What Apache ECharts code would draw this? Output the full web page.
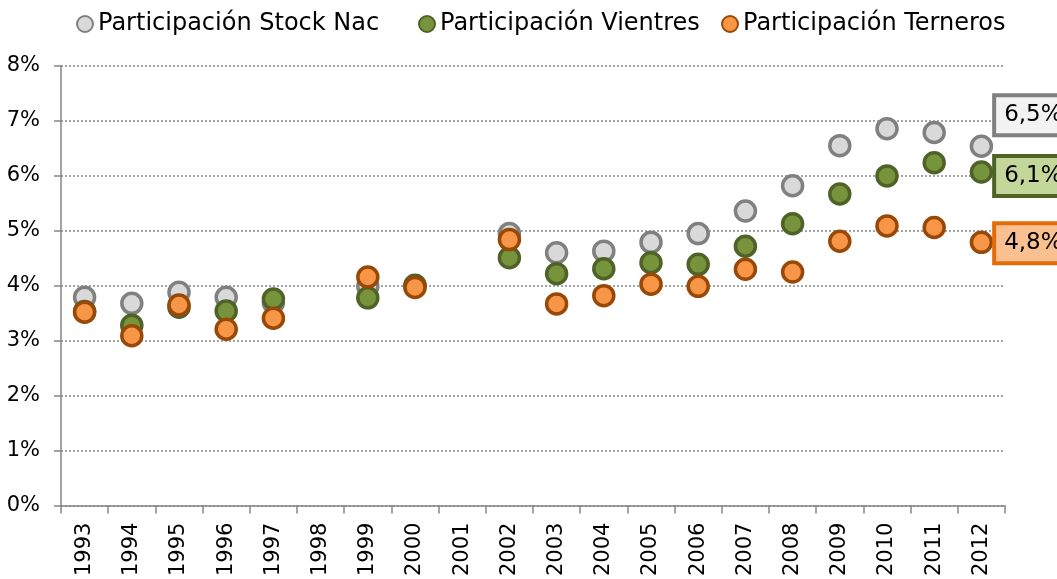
<!DOCTYPE html>
<html><head><meta charset="utf-8">
<script src="https://cdn.jsdelivr.net/npm/echarts@6/dist/echarts.min.js"></script>
<style>html,body{margin:0;padding:0;background:#fff}#c{width:1057px;height:579px}</style>
</head><body><div id="c"></div>
<script>
var years = ['1993','1994','1995','1996','1997','1998','1999','2000','2001','2002','2003','2004','2005','2006','2007','2008','2009','2010','2011','2012'];
var stockNac = [3.79,3.68,3.88,3.79,3.69,null,3.99,4.0,null,4.95,4.60,4.63,4.79,4.95,5.36,5.82,6.55,6.86,6.79,6.54];
var vientres = [3.53,3.28,3.61,3.54,3.76,null,3.78,4.01,null,4.51,4.22,4.31,4.42,4.39,4.72,5.13,5.67,6.00,6.24,6.07];
var terneros = [3.52,3.09,3.65,3.21,3.41,null,4.16,3.97,null,4.84,3.67,3.82,4.03,3.99,4.30,4.25,4.81,5.09,5.06,4.79];
var endLabels = ['6,5%','6,1%','4,8%'];
var yTicks = [0,1,2,3,4,5,6,7,8];

var FONT = 'DejaVu Sans';
var styles = [
  {name:'Participación Stock Nac', data: stockNac, fill:'#d9d9d9', border:'#808080', lblBg:'#f2f2f2', lblBorder:'#808080', off:[0,-31], legLeft: 71},
  {name:'Participación Vientres', data: vientres, fill:'#77933c', border:'#4f6228', lblBg:'#c4d79b', lblBorder:'#4f6228', off:[0,4], legLeft: 413},
  {name:'Participación Terneros', data: terneros, fill:'#f79646', border:'#984807', lblBg:'#fac090', lblBorder:'#e36c09', off:[0,1], legLeft: 716}
];
var series = styles.map(function(s, si){
  var d = s.data.map(function(v, i){
    if (i === s.data.length - 1) {
      return {value: v, label: {show: true, position: 'right', distance: 3, offset: s.off,
        formatter: endLabels[si], fontFamily: FONT, fontSize: 23, color: '#000',
        backgroundColor: s.lblBg, borderColor: s.lblBorder, borderWidth: 4, padding: [7, 8, 6, 8]}};
    }
    return v;
  });
  return {name: s.name, type: 'scatter', data: d, symbol: 'circle', symbolSize: 20,
    itemStyle: {color: s.fill, borderColor: s.border, borderWidth: 3.5, opacity: 1},
    emphasis: {disabled: true}, z: 2 + si};
});
var legends = styles.map(function(s){
  return {top: 7, left: s.legLeft, itemWidth: 16, itemHeight: 16, icon: 'circle',
    textStyle: {fontFamily: FONT, fontSize: 24, color: '#000'}, data: [s.name]};
});

var chart = echarts.init(document.getElementById('c'));
chart.setOption({
  animation: false,
  textStyle: {fontFamily: FONT},
  legend: legends,
  grid: {left: 61, right: 52, top: 66, bottom: 71},
  xAxis: {type: 'category', data: years, boundaryGap: true,
    axisLine: {lineStyle: {color: '#868686', width: 1.5}},
    axisTick: {show: true, length: 8, lineStyle: {color: '#868686', width: 1.5}},
    axisLabel: {rotate: 90, interval: 0, margin: 17, fontFamily: FONT, fontSize: 21, color: '#000'},
    splitLine: {show: false}},
  yAxis: {type: 'value', min: yTicks[0], max: yTicks[yTicks.length-1], interval: 1,
    axisLine: {show: true, lineStyle: {color: '#868686', width: 1.5}},
    axisTick: {show: true, length: 7, lineStyle: {color: '#868686', width: 1.5}},
    axisLabel: {formatter: '{value}%', margin: 21, fontFamily: FONT, fontSize: 21, color: '#000'},
    splitLine: {show: true, lineStyle: {type: [2, 2], color: '#868686', width: 1.5}}},
  series: series
});
</script></body></html>
